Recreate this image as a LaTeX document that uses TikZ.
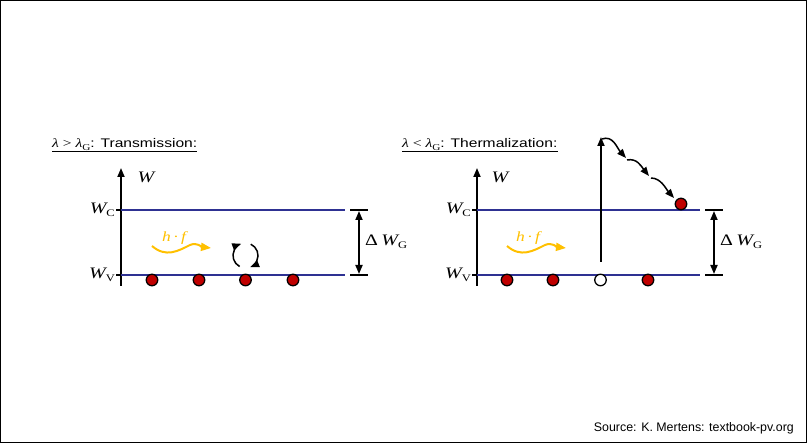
\documentclass[tikz,border=0pt]{standalone}
\usepackage{graphicx}
\usepackage{fontspec}
\setmainfont{Liberation Serif}
\newfontfamily\arialf{Liberation Sans}
\usetikzlibrary{arrows.meta}
\definecolor{bandblue}{RGB}{46,49,146}
\definecolor{dred}{RGB}{192,0,0}
\definecolor{gold}{RGB}{255,192,0}
\newcommand{\msub}[1]{\raisebox{-0.35ex}{\fontsize{10}{10}\selectfont #1}}
\newcommand{\tsub}[1]{\raisebox{-0.35ex}{\fontsize{9}{9}\selectfont #1}}
\newcommand{\sx}[1]{\scalebox{1.25}[1]{#1}}
\begin{document}
\begin{tikzpicture}[x=1pt,y=-1pt,
  axis/.style={line width=1.8, -{Triangle[width=7,length=9]}},
  dblarrow/.style={line width=1.8, {Triangle[width=7,length=9]}-{Triangle[width=7,length=9]}},
  band/.style={bandblue, line width=1.8},
  tickline/.style={line width=1.5},
  electron/.style={circle, draw, line width=1.3, fill=dred, minimum size=11.5, inner sep=0},
  hole/.style={circle, draw, line width=1.3, fill=white, minimum size=11.5, inner sep=0},
  lbl/.style={font=\fontsize{16}{16}\selectfont, inner sep=1},
  titlenode/.style={inner sep=0, anchor=base west, font=\fontsize{12.5}{12.5}\selectfont},
  wave/.style={gold, line width=2, -{Triangle[width=8,length=10]}},
  photon/.style={gold, font=\fontsize{14}{14}\selectfont\itshape, inner sep=0},
  curarrow/.style={line width=1.5, -{Triangle[width=7,length=9]}},
]
\useasboundingbox (0,0) rectangle (807,443);
\draw[line width=1] (0.5,0.5) rectangle (806.5,442.5);

% ---------------- left diagram ----------------
\node[titlenode] (tl) at (52,148) {\sx{{\itshape λ} > {\itshape λ}\tsub{G}{\arialf: Transmission:}}};
\draw[line width=0.8] ([yshift=-3.8pt]tl.base west) -- ([yshift=-3.8pt]tl.base east);

\coordinate (la0) at (121,286);
\coordinate (la1) at (121,168);
\draw[axis] (la0) -- (la1);
\node[lbl, anchor=center] (lW) at (146,177) {\sx{\itshape W}};

\coordinate (lc0) at (121,210); \coordinate (lc1) at (345,210);
\coordinate (lv0) at (121,275); \coordinate (lv1) at (345,275);
\coordinate (lct) at (116,210); \coordinate (lvt) at (116,275);
\draw[band] (lc0) -- (lc1);
\draw[band] (lv0) -- (lv1);
\draw[tickline] (lct) -- (lc0);
\draw[tickline] (lvt) -- (lv0);
\node[lbl, anchor=east] (lWC) at (lct) {\sx{{\itshape W}\msub{C}}};
\node[lbl, anchor=east] (lWV) at (lvt) {\sx{{\itshape W}\msub{V}}};

\coordinate (lg0) at (350,210); \coordinate (lg1) at (368,210);
\coordinate (lg2) at (350,275); \coordinate (lg3) at (368,275);
\coordinate (lga) at (359,211); \coordinate (lgb) at (359,274);
\draw[tickline, line width=1.8] (lg0) -- (lg1);
\draw[tickline, line width=1.8] (lg2) -- (lg3);
\draw[dblarrow] (lga) -- (lgb);
\node[lbl, anchor=west] (lDG) at (364,242) {\sx{Δ\,{\itshape W}\msub{G}}};

\node[electron] (le1) at (152,280) {};
\node[electron] (le2) at (199,280) {};
\node[electron] (le3) at (245.5,280) {};
\node[electron] (le4) at (293,280) {};

\node[photon] (lhf) at (174,238) {\sx{h\,·\,f}};
\coordinate (lw0) at (152,246);
\coordinate (lw1) at (190,245);
\coordinate (lw2) at (211,248);
\draw[wave] (lw0) .. controls (166,258) and (178,251) .. (lw1) .. controls (197,242) and (202,247) .. (lw2);

\coordinate (lcc) at (245.5,255.5);
\draw[curarrow] (lcc) ++(118:12.5) arc[start angle=118, end angle=250, radius=12.5];
\draw[curarrow] (lcc) ++(295:12.5) arc[start angle=295, end angle=428, radius=12.5];

% ---------------- right diagram ----------------
\node[titlenode] (tr) at (402,148) {\sx{{\itshape λ} < {\itshape λ}\tsub{G}{\arialf: Thermalization:}}};
\draw[line width=0.8] ([yshift=-3.8pt]tr.base west) -- ([yshift=-3.8pt]tr.base east);

\coordinate (ra0) at (477,286);
\coordinate (ra1) at (477,168);
\draw[axis] (ra0) -- (ra1);
\node[lbl, anchor=center] (rW) at (500,177) {\sx{\itshape W}};

\coordinate (rc0) at (477,210); \coordinate (rc1) at (700,210);
\coordinate (rv0) at (477,275); \coordinate (rv1) at (700,275);
\coordinate (rct) at (472,210); \coordinate (rvt) at (472,275);
\draw[band] (rc0) -- (rc1);
\draw[band] (rv0) -- (rv1);
\draw[tickline] (rct) -- (rc0);
\draw[tickline] (rvt) -- (rv0);
\node[lbl, anchor=east] (rWC) at (rct) {\sx{{\itshape W}\msub{C}}};
\node[lbl, anchor=east] (rWV) at (rvt) {\sx{{\itshape W}\msub{V}}};

\coordinate (rg0) at (705,210); \coordinate (rg1) at (723,210);
\coordinate (rg2) at (705,275); \coordinate (rg3) at (723,275);
\coordinate (rga) at (714,211); \coordinate (rgb) at (714,274);
\draw[tickline, line width=1.8] (rg0) -- (rg1);
\draw[tickline, line width=1.8] (rg2) -- (rg3);
\draw[dblarrow] (rga) -- (rgb);
\node[lbl, anchor=west] (rDG) at (719,242) {\sx{Δ\,{\itshape W}\msub{G}}};

\node[electron] (re1) at (507,280) {};
\node[electron] (re2) at (553,280) {};
\node[hole] (rh3) at (600.5,280) {};
\node[electron] (re4) at (648,280) {};
\node[electron] (rex) at (681,204) {};

\node[photon] (rhf) at (528,238) {\sx{h\,·\,f}};
\coordinate (rw0) at (507,246);
\coordinate (rw1) at (545,245);
\coordinate (rw2) at (566,248);
\draw[wave] (rw0) .. controls (521,258) and (533,251) .. (rw1) .. controls (552,242) and (557,247) .. (rw2);

\coordinate (rb0) at (601,262);
\coordinate (rb1) at (601,137);
\draw[axis] (rb0) -- (rb1);

\coordinate (rs0) at (602,139);
\coordinate (rs1) at (626,158);
\coordinate (rs2) at (627,160);
\coordinate (rs3) at (649,176);
\coordinate (rs4) at (651,178);
\coordinate (rs5) at (674,198);
\draw[curarrow] (rs0) .. controls (613,135) and (617,148) .. (rs1);
\draw[curarrow] (rs2) .. controls (637,158) and (641,166) .. (rs3);
\draw[curarrow] (rs4) .. controls (661,178) and (666,189) .. (rs5);

\node[anchor=east, inner sep=0, font=\arialf\fontsize{12.4}{12.4}\selectfont] (src) at (794,428) {Source: K. Mertens: textbook-pv.org};
\end{tikzpicture}
\end{document}
